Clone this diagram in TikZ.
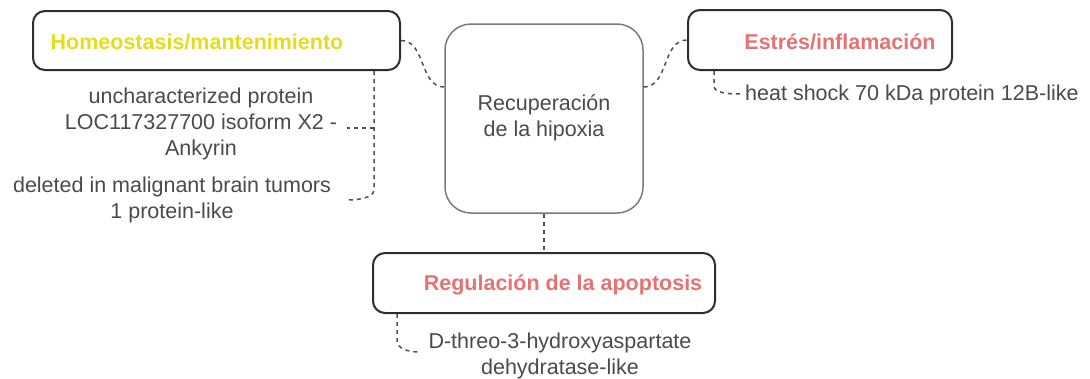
\documentclass[tikz,border=0pt]{standalone}
\usepackage{fontspec}
\setmainfont{Liberation Sans}
\definecolor{txt}{HTML}{4A4A4A}
\definecolor{boxc}{HTML}{2E2E2E}
\definecolor{cboxc}{HTML}{7A7A7A}
\definecolor{dashc}{HTML}{4F4F4F}
\definecolor{yel}{HTML}{E6DC1E}
\definecolor{redt}{HTML}{E57373}
\begin{document}
\begin{tikzpicture}[x=1pt,y=-1pt,
  every node/.style={font=\fontsize{21.5}{26}\selectfont, text=txt, inner sep=0pt},
  catbox/.style={draw=boxc, line width=2pt, rounded corners=12pt},
  mainbox/.style={draw=cboxc, line width=1.5pt, rounded corners=26pt},
  title/.style={font=\fontsize{21.5}{26}\selectfont\bfseries},
  conn/.style={draw=dashc, line width=1.5pt, dash pattern=on 4pt off 4pt}]
\useasboundingbox (0,0) rectangle (1090,378);

% boxes
\node[catbox, minimum width=367pt, minimum height=59pt] (homeo) at (216.5,40.5) {};
\node[mainbox, minimum width=198pt, minimum height=189pt] (main) at (544,118.5) {};
\node[catbox, minimum width=264pt, minimum height=60pt] (estres) at (820,40) {};
\node[catbox, minimum width=342pt, minimum height=60pt] (apop) at (544,283) {};

% titles
\node[title, text=yel] (homeoT) at (197,42) {Homeostasis/mantenimiento};
\node[align=center] (mainT) at (544,118) {Recuperación\\de la hipoxia};
\node[title, text=redt] (estresT) at (840,42) {Estrés/inflamación};
\node[title, text=redt] (apopT) at (563,285) {Regulación de la apoptosis};

% protein texts
\node[align=center] (t1) at (201,124) {uncharacterized protein\\LOC117327700 isoform X2 -\\Ankyrin};
\node[align=center] (t2) at (172,200) {deleted in malignant brain tumors\\1 protein-like};
\node[anchor=west] (t3) at (745,95) {heat shock 70 kDa protein 12B-like};
\node[align=center] (t4) at (560,356) {D-threo-3-hydroxyaspartate\\dehydratase-like};

% connector coordinates
\coordinate (hb) at ([xshift=-27pt]homeo.south east);
\coordinate (t1in) at (347,128);
\coordinate (t2in) at (347,200);
\coordinate (eb) at ([xshift=27pt]estres.south west);
\coordinate (t3in) at (740,94);
\coordinate (ab) at ([xshift=25pt]apop.south west);
\coordinate (t4in) at (420,352);
\coordinate (mw) at (main.west |- 0,87);
\coordinate (me) at (main.east |- 0,87);

% connectors
\draw[conn] (homeo.east) .. controls +(25,0) and +(-25,0) .. (mw);
\draw[conn] (me) .. controls +(25,0) and +(-25,0) .. (estres.west);
\draw[conn] (main.south) -- (apop.north);
\draw[conn] (hb) -- (hb |- 0,190) .. controls +(0,8) and +(10,0) .. (t2in);
\draw[conn] (hb |- t1in) -- (t1in);
\draw[conn] (eb) -- (eb |- 0,86) .. controls +(0,7) and +(-12,0) .. (t3in);
\draw[conn] (ab) -- (ab |- 0,340) .. controls +(0,9) and +(-12,0) .. (t4in);
\end{tikzpicture}
\end{document}
